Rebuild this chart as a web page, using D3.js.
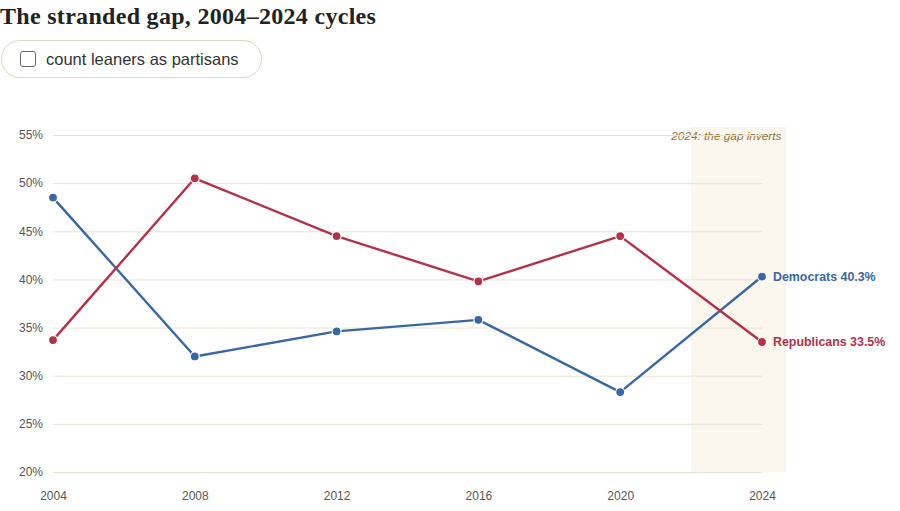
<!DOCTYPE html>
<html><head><meta charset="utf-8">
<script src="https://cdn.jsdelivr.net/npm/d3@7"></script>
<style>
body{margin:0;background:#fff;width:900px;height:511px;overflow:hidden;position:relative;font-family:"Liberation Sans",Arial,sans-serif;}
h1{position:absolute;left:0;top:3px;margin:0;font-family:"Liberation Serif",Georgia,serif;font-weight:bold;font-size:24px;color:#222;letter-spacing:0.3px;}
.pill{position:absolute;left:1px;top:40px;width:261px;height:38px;border:1.5px solid #dcd8c4;border-radius:20px;box-sizing:border-box;display:flex;align-items:center;}
.box{width:16px;height:16px;border:1.5px solid #666;border-radius:3px;margin-left:18px;box-sizing:border-box;}
.lbl{margin-left:10px;font-size:16.5px;color:#333;}
svg{position:absolute;left:0;top:0;}
</style></head><body>
<h1>The stranded gap, 2004–2024 cycles</h1>
<div class="pill"><div class="box"></div><span class="lbl">count leaners as partisans</span></div>
<svg id="c" width="900" height="511"></svg>
<script>
const years = [2004, 2008, 2012, 2016, 2020, 2024];
const democrats = [48.5, 32.0, 34.6, 35.8, 28.3, 40.3];
const republicans = [33.7, 50.5, 44.5, 39.8, 44.5, 33.5];
const yTicks = [20, 25, 30, 35, 40, 45, 50, 55];
const annotation = "2024: the gap inverts";

const svg = d3.select("#c");
const x = d3.scaleLinear().domain([2004, 2024]).range([53, 762]);
const y = d3.scaleLinear().domain([20, 55]).range([472, 135]);

// highlight band
svg.append("rect").attr("x", x(2022)).attr("y", 127)
  .attr("width", x(2024.68) - x(2022)).attr("height", 472 - 127)
  .attr("fill", "#fbf6ee");
svg.append("text").attr("x", x(2024.55)).attr("y", 140)
  .attr("text-anchor", "end").attr("font-size", 11.8).attr("font-style", "italic")
  .attr("fill", "#8f7340").text(annotation);

// y grid + labels
const yAxis = d3.axisLeft(y).tickValues(yTicks).tickSize(-(762 - 53)).tickFormat(d => d + "%").tickPadding(10);
const gy = svg.append("g").attr("transform", "translate(53,0)").call(yAxis);
gy.select(".domain").remove();
gy.selectAll(".tick line").attr("stroke", "#e6e2d6").attr("stroke-width", 1);
gy.selectAll(".tick text").attr("fill", "#555").attr("font-size", 12).attr("font-family", "Liberation Sans, Arial, sans-serif");

// x axis labels
const xAxis = d3.axisBottom(x).tickValues(years).tickSize(0).tickFormat(d3.format("d")).tickPadding(13);
const gx = svg.append("g").attr("transform", "translate(0,478)").call(xAxis);
gx.select(".domain").remove();
gx.selectAll(".tick text").attr("fill", "#555").attr("font-size", 12).attr("font-family", "Liberation Sans, Arial, sans-serif");

const series = [
  {name: "Democrats", values: democrats, color: "#3a67a0"},
  {name: "Republicans", values: republicans, color: "#b3324b"}
];
const line = d3.line().x((d, i) => x(years[i])).y(d => y(d));
series.forEach(s => {
  svg.append("path").datum(s.values).attr("d", line).attr("fill", "none")
    .attr("stroke", s.color).attr("stroke-width", 2.4).attr("stroke-linejoin", "round");
  svg.selectAll(null).data(s.values).enter().append("circle")
    .attr("cx", (d, i) => x(years[i])).attr("cy", d => y(d)).attr("r", 4.5)
    .attr("fill", s.color).attr("stroke", "#fff").attr("stroke-width", 1.2);
  const last = s.values[s.values.length - 1];
  svg.append("text").attr("x", x(2024) + 11).attr("y", y(last)).attr("dy", "0.35em")
    .attr("fill", s.color).attr("font-size", 12.4).attr("font-weight", "bold")
    .attr("font-family", "Liberation Sans, Arial, sans-serif")
    .text(s.name + " " + last.toFixed(1) + "%");
});
</script></body></html>
